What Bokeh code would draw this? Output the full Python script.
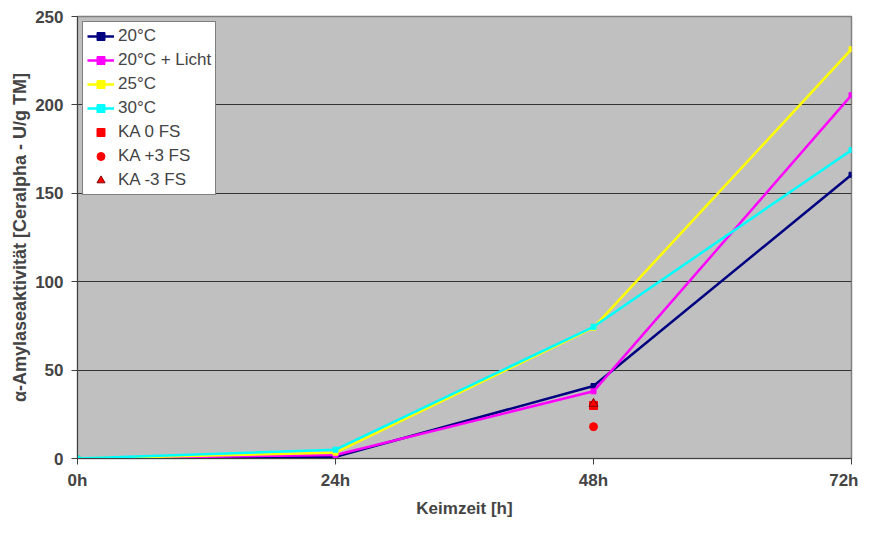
from bokeh.plotting import figure
from bokeh.models import Range1d, Legend, LegendItem, FixedTicker
from bokeh.embed import file_html
from bokeh.resources import INLINE

hours = [0, 24, 48, 72]
tick_labels = ["0h", "24h", "48h", "72h"]
y_ticks = [0, 50, 100, 150, 200, 250]
t20 = [0, 1, 41, 160.5]
t20_licht = [0, 2, 38, 205.5]
t25 = [0, 3.3, 74, 231.5]
t30 = [0, 5, 74.5, 174.5]
ka_x = [48]
ka0 = [30]
ka_plus3 = [18]
ka_minus3 = [31]

series = [
    ("20°C", t20, "#000080"),
    ("20°C + Licht", t20_licht, "#FF00FF"),
    ("25°C", t25, "#FFFF00"),
    ("30°C", t30, "#00FFFF"),
]

FONT = "Liberation Sans"

p = figure(width=858, height=520, output_backend="svg", toolbar_location=None,
           x_range=Range1d(0, 72), y_range=Range1d(0, 250),
           min_border_left=77, min_border_right=7, min_border_top=16, min_border_bottom=58)
p.background_fill_color = "#C0C0C0"
p.border_fill_color = "white"
p.outline_line_color = "#808080"
p.outline_line_width = 1.5
p.xgrid.grid_line_color = None
p.ygrid.grid_line_color = "#333333"
p.ygrid.grid_line_width = 1

items = []
for name, vals, col in series:
    r1 = p.line(hours, vals, line_color=col, line_width=2.5)
    r2 = p.scatter(hours, vals, marker="square", size=5, fill_color=col, line_color=col)
    items.append(LegendItem(label=name, renderers=[r1, r2]))

rs = p.scatter(ka_x, ka0, marker="square", size=8, fill_color="#FF0000", line_color="#FF0000")
rc = p.scatter(ka_x, ka_plus3, marker="circle", size=8, fill_color="#FF0000", line_color="#FF0000")
rt = p.scatter(ka_x, ka_minus3, marker="triangle", size=9, fill_color="#FF0000", line_color="#800000")
items.append(LegendItem(label="KA 0 FS", renderers=[rs]))
items.append(LegendItem(label="KA +3 FS", renderers=[rc]))
items.append(LegendItem(label="KA -3 FS", renderers=[rt]))

legend = Legend(items=items, location="top_left")
legend.background_fill_color = "white"
legend.background_fill_alpha = 1
legend.border_line_color = "black"
legend.border_line_width = 1
legend.label_text_font = FONT
legend.label_text_font_size = "17px"
legend.label_height = 20
legend.glyph_height = 20
legend.glyph_width = 27
legend.spacing = 4
legend.padding = 4
legend.margin = 5
legend.label_standoff = 4
p.add_layout(legend)

p.xaxis.ticker = FixedTicker(ticks=hours)
p.xaxis.major_label_overrides = {h: l for h, l in zip(hours, tick_labels)}
p.yaxis.ticker = FixedTicker(ticks=y_ticks)
for ax in (p.xaxis, p.yaxis):
    ax.axis_line_color = "#404040"
    ax.major_tick_line_color = "#404040"
    ax.minor_tick_line_color = None
    ax.major_tick_in = 0
    ax.major_tick_out = 6
    ax.major_label_text_font = FONT
    ax.major_label_text_font_style = "bold"
    ax.major_label_text_font_size = "17px"
    ax.axis_label_text_font = FONT
    ax.axis_label_text_font_style = "bold"
    ax.axis_label_text_font_size = "17px"
p.yaxis.axis_label_text_font_size = "18px"
p.xaxis.axis_label = "Keimzeit [h]"
p.yaxis.axis_label = "α-Amylaseaktivität [Ceralpha - U/g TM]"
p.xaxis.major_label_standoff = 6
p.xaxis.axis_label_standoff = 6
p.yaxis.major_label_standoff = 8
p.yaxis.axis_label_standoff = 2

open("out.html", "w").write(file_html(p, INLINE))
